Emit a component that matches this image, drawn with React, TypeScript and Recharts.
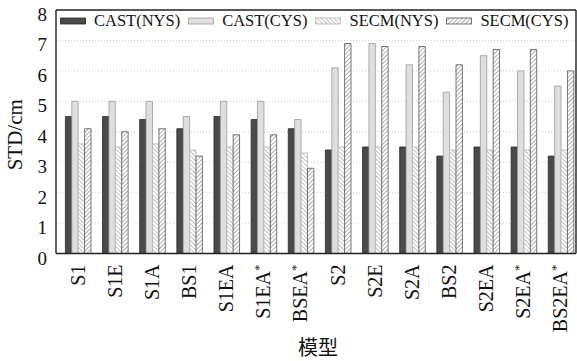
import React from 'react';
import { BarChart, Bar, XAxis, YAxis, CartesianGrid, Legend } from 'recharts';

// model names along the x axis (a trailing * is drawn as a superscript)
const models = ['S1', 'S1E', 'S1A', 'BS1', 'S1EA', 'S1EA*', 'BSEA*', 'S2', 'S2E', 'S2A', 'BS2', 'S2EA', 'S2EA*', 'BS2EA*'];

// STD values in cm
const castNys = [4.5, 4.5, 4.4, 4.1, 4.5, 4.4, 4.1, 3.4, 3.5, 3.5, 3.2, 3.5, 3.5, 3.2];
const castCys = [5.0, 5.0, 5.0, 4.5, 5.0, 5.0, 4.4, 6.1, 6.9, 6.2, 5.3, 6.5, 6.0, 5.5];
const secmNys = [3.6, 3.5, 3.6, 3.4, 3.5, 3.5, 3.3, 3.5, 3.5, 3.5, 3.4, 3.4, 3.4, 3.4];
const secmCys = [4.1, 4.0, 4.1, 3.2, 3.9, 3.9, 2.8, 6.9, 6.8, 6.8, 6.2, 6.7, 6.7, 6.0];

const seriesNames = ['CAST(NYS)', 'CAST(CYS)', 'SECM(NYS)', 'SECM(CYS)'];
const seriesKeys = ['castNys', 'castCys', 'secmNys', 'secmCys'];
const yTicks = [0, 1, 2, 3, 4, 5, 6, 7, 8];

const rows = models.map((model, i) => ({
  model,
  spacer: 0, // empty slot so the group sits right of the tick like the original
  castNys: castNys[i],
  castCys: castCys[i],
  secmNys: secmNys[i],
  secmCys: secmCys[i],
}));

const fills = ['#4a4a4a', '#dedede', 'url(#hatchNys)', 'url(#hatchCys)'];
const strokes = ['#2a2a2a', '#9a9a9a', '#b5b5b5', '#555555'];

const SERIF = '"Liberation Serif", "DejaVu Serif", serif';
const AXIS = '#222';

const XTick = (props: any) => {
  const { x, y, payload } = props;
  const label = String(payload.value);
  const star = label.endsWith('*');
  const base = star ? label.slice(0, -1) : label;
  const tx = x + 3;
  const ty = y + 11;
  return (
    <text
      x={tx}
      y={ty}
      transform={`rotate(-90, ${tx}, ${ty})`}
      textAnchor="end"
      dy="0.35em"
      fontFamily={SERIF}
      fontSize={20}
      fill="#111"
    >
      {base}
      {star && (
        <tspan dy="-0.55em" fontSize={13}>
          *
        </tspan>
      )}
    </text>
  );
};

const YTick = (props: any) => {
  const { x, y, payload } = props;
  return (
    <text x={x} y={y + 11} textAnchor="end" fontFamily={SERIF} fontSize={19} fill="#111">
      {payload.value}
    </text>
  );
};

const LegendContent = () => (
  <div
    style={{
      display: 'flex',
      alignItems: 'center',
      fontFamily: SERIF,
      fontSize: 16.5,
      lineHeight: '18px',
      color: '#111',
      whiteSpace: 'nowrap',
    }}
  >
    {seriesNames.map((name, i) => (
      <div key={name} style={{ display: 'flex', alignItems: 'center', marginRight: 8 }}>
        <svg width={26} height={8} style={{ marginRight: 8 }}>
          <rect x={0.5} y={1} width={25} height={6} fill={fills[i]} stroke={strokes[i]} strokeWidth={0.8} />
        </svg>
        <span>{name}</span>
      </div>
    ))}
  </div>
);

export default function App() {
  return (
    <div style={{ position: 'absolute', left: 0, top: 0, background: '#fff' }}>
      <BarChart
        width={577}
        height={361}
        data={rows}
        margin={{ top: 10, right: 1, left: 0, bottom: 0 }}
        barSize={6.4}
        barGap={0}
      >
        <defs>
          <pattern id="hatchNys" patternUnits="userSpaceOnUse" width={3} height={3} patternTransform="rotate(-45)">
            <rect width={3} height={3} fill="#fff" />
            <line x1={0.5} y1={0} x2={0.5} y2={3} stroke="#c2c2c2" strokeWidth={1} />
          </pattern>
          <pattern id="hatchCys" patternUnits="userSpaceOnUse" width={3} height={3} patternTransform="rotate(45)">
            <rect width={3} height={3} fill="#fff" />
            <line x1={0.5} y1={0} x2={0.5} y2={3} stroke="#b0b0b0" strokeWidth={1} />
          </pattern>
        </defs>
        <CartesianGrid
          xAxisId="b"
          yAxisId="l"
          vertical={false}
          stroke="#d0d0d0"
          strokeDasharray="1 2"
        />
        <XAxis
          xAxisId="b"
          dataKey="model"
          interval={0}
          height={107.5}
          tickSize={0}
          tickMargin={0}
          tickLine={false}
          axisLine={{ stroke: AXIS, strokeWidth: 1.4 }}
          tick={<XTick />}
          label={{
            content: (p: any) => {
              const vb = p.viewBox;
              return (
                <text
                  x={vb.x + vb.width / 2 + 2}
                  y={355}
                  textAnchor="middle"
                  fontFamily='"Noto Sans CJK SC", sans-serif'
                  fontSize={20}
                  fill="#111"
                >
                  模型
                </text>
              );
            },
          }}
        />
        <XAxis
          xAxisId="t"
          dataKey="model"
          orientation="top"
          mirror
          interval={0}
          tick={false}
          tickSize={4}
          tickLine={{ stroke: AXIS }}
          axisLine={{ stroke: AXIS, strokeWidth: 1.4 }}
        />
        <YAxis
          yAxisId="l"
          domain={[0, 8]}
          ticks={yTicks}
          width={56}
          tickSize={0}
          tickMargin={9}
          tickLine={false}
          axisLine={{ stroke: AXIS, strokeWidth: 1.4 }}
          tick={<YTick />}
          label={{
            content: (p: any) => {
              const vb = p.viewBox;
              const cx = 15;
              const cy = vb.y + vb.height / 2 + 3;
              return (
                <text
                  x={cx}
                  y={cy}
                  transform={`rotate(-90, ${cx}, ${cy})`}
                  textAnchor="middle"
                  dy="0.35em"
                  fontFamily={SERIF}
                  fontSize={21}
                  fill="#111"
                >
                  STD/cm
                </text>
              );
            },
          }}
        />
        <YAxis
          yAxisId="lt"
          orientation="left"
          mirror
          domain={[0, 8]}
          ticks={yTicks}
          tick={false}
          tickSize={4}
          tickLine={{ stroke: AXIS }}
          axisLine={false}
        />
        <YAxis
          yAxisId="r"
          orientation="right"
          mirror
          domain={[0, 8]}
          ticks={yTicks}
          tick={false}
          tickSize={4}
          tickLine={{ stroke: AXIS }}
          axisLine={{ stroke: AXIS, strokeWidth: 1.4 }}
        />
        <Legend
          layout="horizontal"
          verticalAlign="middle"
          align="center"
          content={<LegendContent />}
          wrapperStyle={{ top: 12, left: 60, width: 515, height: 20, bottom: 'auto', right: 'auto' }}
        />
        <Bar
          dataKey="spacer"
          xAxisId="b"
          yAxisId="l"
          fill="none"
          legendType="none"
          isAnimationActive={false}
        />
        {seriesKeys.map((key, i) => (
          <Bar
            key={key}
            dataKey={key}
            name={seriesNames[i]}
            xAxisId="b"
            yAxisId="l"
            fill={fills[i]}
            stroke={strokes[i]}
            strokeWidth={0.8}
            isAnimationActive={false}
          />
        ))}
      </BarChart>
    </div>
  );
}
